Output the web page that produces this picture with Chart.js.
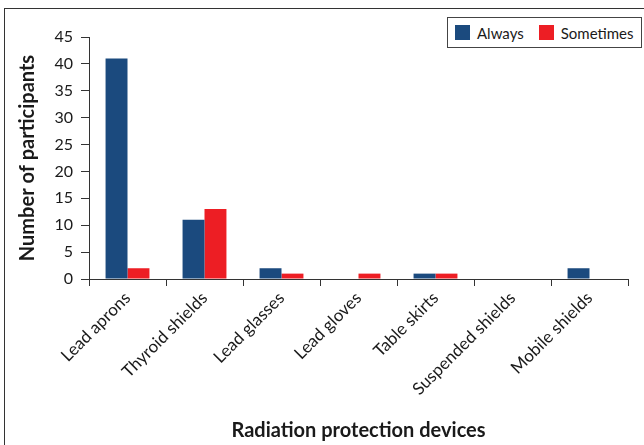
<!DOCTYPE html>
<html lang="en">
<head>
<meta charset="UTF-8">
<title>Radiation protection devices</title>
<script src="https://cdn.jsdelivr.net/npm/chart.js"></script>
<style>
  html, body { margin: 0; padding: 0; background: #fff; overflow: hidden; }
  #wrap { position: relative; width: 644px; height: 445px; }
  #frame {
    position: absolute; left: 4px; top: 8px; width: 700px; height: 500px;
    border: 1.5px solid #333; box-sizing: border-box;
  }
  #legend {
    position: absolute; left: 447px; top: 17px; width: 195px; height: 31px;
    border: 1.5px solid #444; box-sizing: border-box; background: #fff;
    font-family: Lato, sans-serif; font-size: 15px; color: #1a1a1a;
    display: flex; align-items: center; padding-left: 7px; white-space: nowrap;
  }
  #legend span.box { display: inline-block; width: 15px; height: 15px; margin-right: 7px; }
  #legend span.item { display: flex; align-items: center; margin-right: 15px; }
  canvas { position: absolute; left: 0; top: 0; }
</style>
</head>
<body>
<div id="wrap">
  <div id="frame"></div>
  <canvas id="grafico" width="644" height="445"></canvas>
  <div id="legend"></div>
</div>
<script>
  var categorias = ['Lead aprons', 'Thyroid shields', 'Lead glasses', 'Lead gloves',
                    'Table skirts', 'Suspended shields', 'Mobile shields'];
  var sempre = [41, 11, 2, 0, 1, 0, 2];
  var asVezes = [2, 13, 1, 1, 1, 0, 0];
  var ticksY = [0, 5, 10, 15, 20, 25, 30, 35, 40, 45];

  var azul = '#1b4a7e';
  var vermelho = '#ed1e24';
  var corTexto = '#1a1a1a';
  var corEixo = '#333';

  var grafico = new Chart(document.getElementById('grafico'), {
    type: 'bar',
    data: {
      labels: categorias,
      datasets: [
        { label: 'Always', data: sempre, backgroundColor: azul,
          categoryPercentage: 0.57, barPercentage: 1.0 },
        { label: 'Sometimes', data: asVezes, backgroundColor: vermelho,
          categoryPercentage: 0.57, barPercentage: 1.0 }
      ]
    },
    options: {
      responsive: false,
      animation: false,
      layout: { padding: { top: 37, right: 16, left: 0, bottom: 0 } },
      plugins: { legend: { display: false }, tooltip: { enabled: false } },
      scales: {
        x: {
          afterFit: function (s) { s.height = 166; },
          grid: { drawOnChartArea: false, tickLength: 7, color: corEixo, offset: true },
          border: { color: corEixo, width: 1 },
          ticks: {
            minRotation: 45, maxRotation: 45, padding: 2,
            color: corTexto, font: { family: 'Lato', size: 17 }
          },
          title: {
            display: true, text: 'Radiation protection devices', color: corTexto,
            font: { family: 'Lato', size: 20, weight: 'bold' },
            padding: { top: 0, bottom: 2 }
          }
        },
        y: {
          min: 0, max: 45,
          afterFit: function (s) { s.width = 89; },
          afterBuildTicks: function (s) { s.ticks = ticksY.map(function (v) { return { value: v }; }); },
          grid: { drawOnChartArea: false, tickLength: 8, color: corEixo },
          border: { color: corEixo, width: 1 },
          ticks: { padding: 8, color: corTexto, font: { family: 'Lato', size: 16 } },
          title: {
            display: true, text: 'Number of participants', color: corTexto,
            font: { family: 'Lato', size: 20, weight: 'bold' },
            padding: { top: 16, bottom: 0 }
          }
        }
      }
    }
  });

  // legenda em html, montada a partir dos datasets
  var legenda = document.getElementById('legend');
  grafico.data.datasets.forEach(function (ds) {
    var item = document.createElement('span');
    item.className = 'item';
    item.innerHTML = '<span class="box" style="background:' + ds.backgroundColor + '"></span>' + ds.label;
    legenda.appendChild(item);
  });
</script>
</body>
</html>
